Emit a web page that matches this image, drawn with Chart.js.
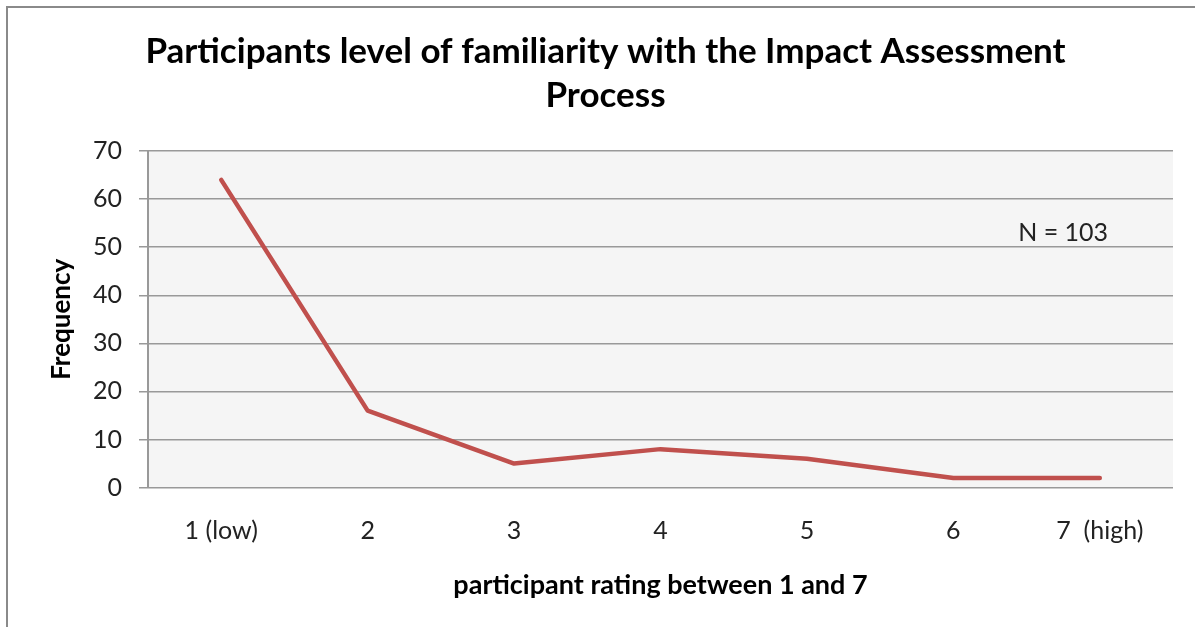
<!DOCTYPE html>
<html>
<head>
<meta charset="utf-8">
<script src="https://cdn.jsdelivr.net/npm/chart.js@4"></script>
<style>
  html, body { margin: 0; padding: 0; background: #fff; overflow: hidden; }
  #wrap { position: relative; width: 1195px; height: 627px; }
  #frame { position: absolute; left: 6px; top: 6px; width: 1300px; height: 700px; border-left: 2px solid #8a8a8a; border-top: 2px solid #8a8a8a; box-sizing: border-box; pointer-events: none; }
  canvas { position: absolute; left: 0; top: 0; }
</style>
</head>
<body>
<div id="wrap">
  <canvas id="c" width="1195" height="627"></canvas>
  <div id="frame"></div>
</div>
<script>
const categories = ['1 (low)', '2', '3', '4', '5', '6', '7  (high)'];
const frequency = [64, 16, 5, 8, 6, 2, 2];
const titleLines = ['Participants level of familiarity with the Impact Assessment', 'Process'];
const xTitle = 'participant rating between 1 and 7';
const yTitle = 'Frequency';
const annotationText = 'N = 103';

const FONT = 'Lato, "Open Sans", "DejaVu Sans", sans-serif';

const plotBg = {
  id: 'plotBg',
  beforeDraw(chart) {
    const { ctx, chartArea: a } = chart;
    ctx.save();
    ctx.fillStyle = '#f5f5f5';
    ctx.fillRect(a.left, a.top, a.right - a.left, a.bottom - a.top);
    ctx.restore();
  }
};

const nLabel = {
  id: 'nLabel',
  afterDatasetsDraw(chart) {
    const { ctx, scales } = chart;
    const x = scales.x.getPixelForValue(5.75);
    const y = scales.y.getPixelForValue(53);
    ctx.save();
    ctx.font = '25px ' + FONT;
    ctx.fillStyle = '#222';
    ctx.textAlign = 'center';
    ctx.textBaseline = 'middle';
    ctx.fillText(annotationText, x, y);
    ctx.restore();
  }
};

new Chart(document.getElementById('c'), {
  type: 'line',
  data: {
    labels: categories,
    datasets: [{
      data: frequency,
      borderColor: '#c0504d',
      borderWidth: 4.5,
      pointRadius: 0,
      tension: 0,
      fill: false,
      borderCapStyle: 'round',
      borderJoinStyle: 'round'
    }]
  },
  options: {
    responsive: false,
    animation: false,
    devicePixelRatio: 1,
    layout: { padding: { left: 38, right: 22, top: 0, bottom: 26 } },
    plugins: {
      legend: { display: false },
      tooltip: { enabled: false },
      title: {
        display: true,
        text: titleLines,
        color: '#000',
        font: { family: FONT, size: 35, weight: 'bold', lineHeight: 1.257 },
        padding: { top: 30, bottom: 33 }
      }
    },
    scales: {
      x: {
        offset: true,
        grid: { display: false, drawTicks: false },
        border: { display: false },
        ticks: { color: '#222', font: { family: FONT, size: 25 }, padding: 28, maxRotation: 0, autoSkip: false },
        title: {
          display: true,
          text: xTitle,
          color: '#000',
          font: { family: FONT, size: 27, weight: 'bold' },
          padding: { top: -5, bottom: 0 }
        }
      },
      y: {
        min: 0,
        max: 70,
        ticks: { stepSize: 10, color: '#222', font: { family: FONT, size: 25 }, padding: 17 },
        grid: { color: '#999', lineWidth: 1.5, drawTicks: true, tickLength: 9 },
        border: { display: true, color: '#999', width: 2 },
        title: {
          display: true,
          text: yTitle,
          color: '#000',
          font: { family: FONT, size: 26, weight: 'bold' },
          padding: { top: 8, bottom: 0 }
        },
        afterFit(scale) { scale.width = 110; }
      }
    }
  },
  plugins: [plotBg, nLabel]
});
</script>
</body>
</html>
